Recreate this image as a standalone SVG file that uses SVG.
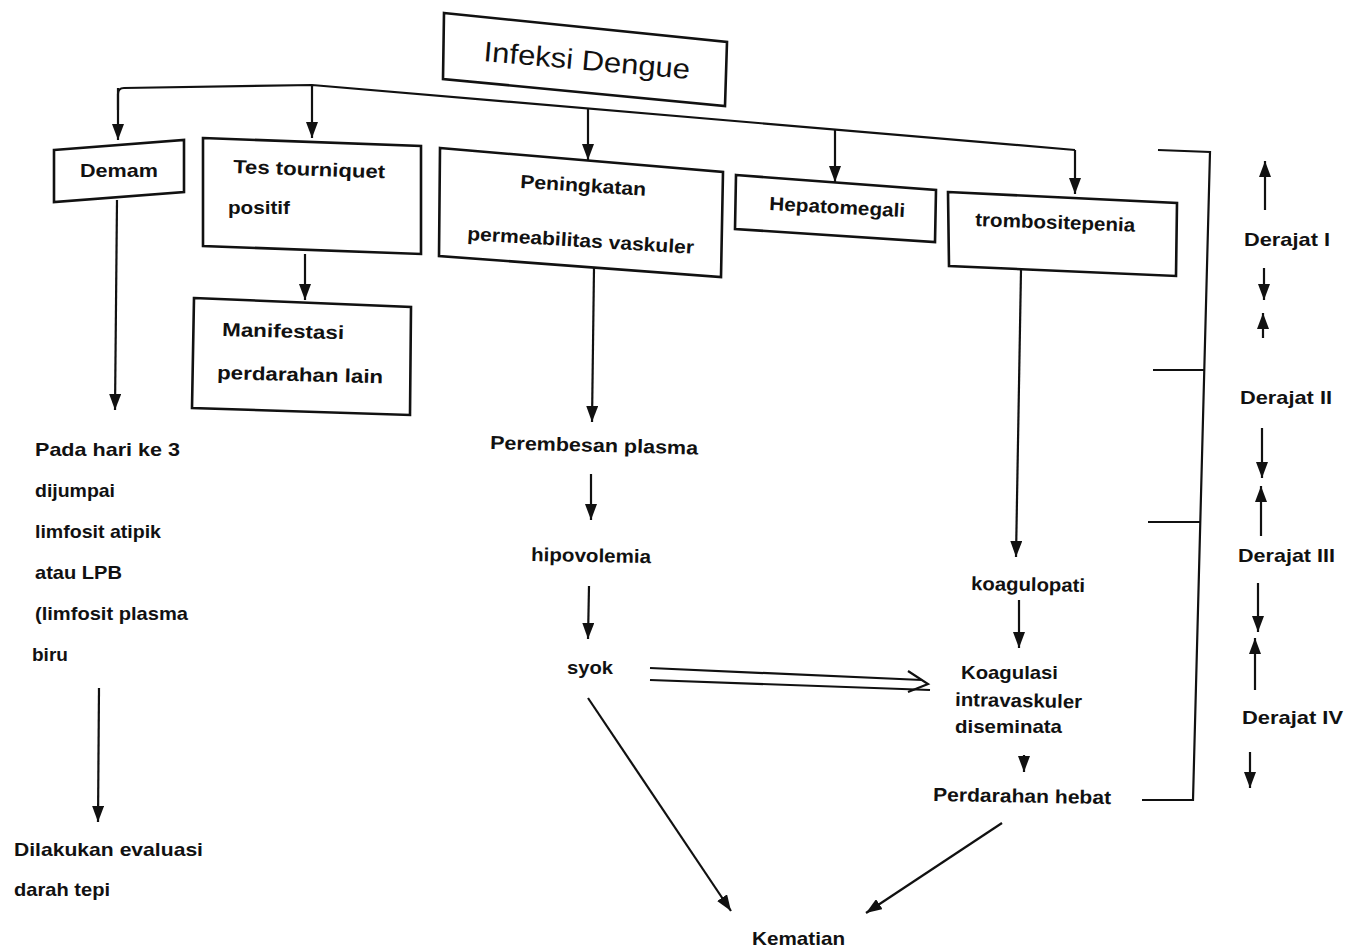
<svg xmlns="http://www.w3.org/2000/svg" width="1355" height="947" viewBox="0 0 1355 947">
<style>
.box{fill:#fff;stroke:#111;stroke-width:2.6;stroke-linejoin:miter}
.ln{fill:none;stroke:#111;stroke-width:2.2}
.t{font-family:"Liberation Sans",Arial,sans-serif;font-weight:bold;font-size:19px;fill:#111}
.tc{text-anchor:middle}
.big{font-family:"Liberation Sans",Arial,sans-serif;font-size:28px;fill:#111;text-anchor:middle}
</style>
<defs>
<marker id="arr" markerUnits="userSpaceOnUse" markerWidth="16" markerHeight="12" refX="16" refY="6" orient="auto">
<path d="M0,0 L16,6 L0,12 z" fill="#111"/>
</marker>
</defs>
<rect width="1355" height="947" fill="#fff"/>

<g id="connectors">
<path class="ln" d="M118,110 L118,94 Q118,88 124,88 L312,85 L1075,150"/>
<line class="ln" x1="118" y1="88" x2="118" y2="140" marker-end="url(#arr)"/>
<line class="ln" x1="312" y1="85" x2="312" y2="138" marker-end="url(#arr)"/>
<line class="ln" x1="588" y1="108" x2="588" y2="160" marker-end="url(#arr)"/>
<line class="ln" x1="835" y1="130" x2="835" y2="182" marker-end="url(#arr)"/>
<line class="ln" x1="1075" y1="150" x2="1075" y2="194" marker-end="url(#arr)"/>
<line class="ln" x1="305" y1="254" x2="305" y2="300" marker-end="url(#arr)"/>
<line class="ln" x1="117" y1="200" x2="115" y2="410" marker-end="url(#arr)"/>
<line class="ln" x1="594" y1="268" x2="592" y2="422" marker-end="url(#arr)"/>
<line class="ln" x1="1021" y1="270" x2="1016" y2="557" marker-end="url(#arr)"/>
<line class="ln" x1="591" y1="474" x2="591" y2="520" marker-end="url(#arr)"/>
<line class="ln" x1="589" y1="586" x2="588" y2="639" marker-end="url(#arr)"/>
<line class="ln" x1="1019" y1="600" x2="1019" y2="648" marker-end="url(#arr)"/>
<line class="ln" x1="1024" y1="755" x2="1024" y2="772" marker-end="url(#arr)"/>
<line class="ln" x1="99" y1="688" x2="98" y2="822" marker-end="url(#arr)"/>
<line class="ln" x1="588" y1="698" x2="731" y2="911" marker-end="url(#arr)"/>
<line class="ln" x1="1002" y1="823" x2="866" y2="913" marker-end="url(#arr)"/>
<path class="ln" d="M650,668 L922,680"/>
<path class="ln" d="M650,680 L930,690"/>
<path class="ln" d="M908,671 L928,684 L908,692"/>
<path class="ln" d="M1158,150 L1210,152 L1193,800 L1142,800"/>
<line class="ln" x1="1153" y1="370" x2="1204" y2="370"/>
<line class="ln" x1="1148" y1="522" x2="1200" y2="522"/>
<line class="ln" x1="1265" y1="210" x2="1265" y2="161" marker-end="url(#arr)"/>
<line class="ln" x1="1264" y1="268" x2="1264" y2="300" marker-end="url(#arr)"/>
<line class="ln" x1="1263" y1="338" x2="1263" y2="313" marker-end="url(#arr)"/>
<line class="ln" x1="1262" y1="428" x2="1262" y2="478" marker-end="url(#arr)"/>
<line class="ln" x1="1261" y1="536" x2="1261" y2="486" marker-end="url(#arr)"/>
<line class="ln" x1="1258" y1="583" x2="1258" y2="632" marker-end="url(#arr)"/>
<line class="ln" x1="1255" y1="690" x2="1255" y2="638" marker-end="url(#arr)"/>
<line class="ln" x1="1250" y1="752" x2="1250" y2="788" marker-end="url(#arr)"/>
</g>

<g id="infeksi">
<polygon class="box" points="444,13 727,42 725,106 443,79"/>
<text class="big" x="587" y="70" transform="rotate(5 587 60)" textLength="207" lengthAdjust="spacingAndGlyphs">Infeksi Dengue</text>
</g>
<g id="demam">
<polygon class="box" points="54,150 184,140 184,192 54,202"/>
<text class="t tc" x="119" y="177" textLength="78" lengthAdjust="spacingAndGlyphs">Demam</text>
</g>
<g id="tes">
<polygon class="box" points="203,138 421,146 421,254 203,246"/>
<text class="t" x="233" y="173" transform="rotate(2 233 173)" textLength="152" lengthAdjust="spacingAndGlyphs">Tes tourniquet</text>
<text class="t" x="228" y="214" textLength="62" lengthAdjust="spacingAndGlyphs">positif</text>
</g>
<g id="manifestasi">
<polygon class="box" points="194,298 411,307 410,415 192,408"/>
<text class="t" x="222" y="336" transform="rotate(1.5 222 336)" textLength="122" lengthAdjust="spacingAndGlyphs">Manifestasi</text>
<text class="t" x="217" y="379" transform="rotate(1.5 217 379)" textLength="166" lengthAdjust="spacingAndGlyphs">perdarahan lain</text>
</g>
<g id="peningkatan">
<polygon class="box" points="440,148 723,172 721,277 439,256"/>
<text class="t" x="520" y="188" transform="rotate(3.5 520 188)" textLength="126" lengthAdjust="spacingAndGlyphs">Peningkatan</text>
<text class="t" x="467" y="240" transform="rotate(3.5 467 240)" textLength="227" lengthAdjust="spacingAndGlyphs">permeabilitas vaskuler</text>
</g>
<g id="hepatomegali">
<polygon class="box" points="736,175 936,190 935,242 735,229"/>
<text class="t" x="769" y="210" transform="rotate(3 769 210)" textLength="136" lengthAdjust="spacingAndGlyphs">Hepatomegali</text>
</g>
<g id="trombositepenia">
<polygon class="box" points="948,192 1177,203 1176,276 949,266"/>
<text class="t" x="975" y="226" transform="rotate(2 975 226)" textLength="160" lengthAdjust="spacingAndGlyphs">trombositepenia</text>
</g>

<g id="pada-hari">
<text class="t" x="35" y="456" textLength="145" lengthAdjust="spacingAndGlyphs">Pada hari ke 3</text>
<text class="t" x="35" y="497" textLength="80" lengthAdjust="spacingAndGlyphs">dijumpai</text>
<text class="t" x="35" y="538" textLength="126" lengthAdjust="spacingAndGlyphs">limfosit atipik</text>
<text class="t" x="35" y="579" textLength="87" lengthAdjust="spacingAndGlyphs">atau LPB</text>
<text class="t" x="35" y="620" textLength="153" lengthAdjust="spacingAndGlyphs">(limfosit plasma</text>
<text class="t" x="32" y="661">biru</text>
</g>
<g id="evaluasi">
<text class="t" x="14" y="856" textLength="189" lengthAdjust="spacingAndGlyphs">Dilakukan evaluasi</text>
<text class="t" x="14" y="896" textLength="96" lengthAdjust="spacingAndGlyphs">darah tepi</text>
</g>
<g id="perembesan">
<text class="t" x="490" y="449" transform="rotate(1.5 490 449)" textLength="208" lengthAdjust="spacingAndGlyphs">Perembesan plasma</text>
</g>
<g id="hipovolemia">
<text class="t" x="531" y="561" transform="rotate(1 531 561)" textLength="120" lengthAdjust="spacingAndGlyphs">hipovolemia</text>
</g>
<g id="syok">
<text class="t" x="567" y="674" textLength="46" lengthAdjust="spacingAndGlyphs">syok</text>
</g>
<g id="koagulopati">
<text class="t" x="971" y="590" transform="rotate(1 971 590)" textLength="114" lengthAdjust="spacingAndGlyphs">koagulopati</text>
</g>
<g id="kid">
<text class="t" x="961" y="679" textLength="97" lengthAdjust="spacingAndGlyphs">Koagulasi</text>
<text class="t" x="955" y="706" transform="rotate(1 955 706)" textLength="127" lengthAdjust="spacingAndGlyphs">intravaskuler</text>
<text class="t" x="955" y="733" textLength="107" lengthAdjust="spacingAndGlyphs">diseminata</text>
</g>
<g id="perdarahan-hebat">
<text class="t" x="933" y="801" transform="rotate(1 933 801)" textLength="178" lengthAdjust="spacingAndGlyphs">Perdarahan hebat</text>
</g>
<g id="kematian">
<text class="t" x="752" y="945" textLength="93" lengthAdjust="spacingAndGlyphs">Kematian</text>
</g>
<g id="derajat">
<text class="t" x="1244" y="246" textLength="86" lengthAdjust="spacingAndGlyphs">Derajat I</text>
<text class="t" x="1240" y="404" textLength="92" lengthAdjust="spacingAndGlyphs">Derajat II</text>
<text class="t" x="1238" y="562" textLength="97" lengthAdjust="spacingAndGlyphs">Derajat III</text>
<text class="t" x="1242" y="724" textLength="101" lengthAdjust="spacingAndGlyphs">Derajat IV</text>
</g>
</svg>
